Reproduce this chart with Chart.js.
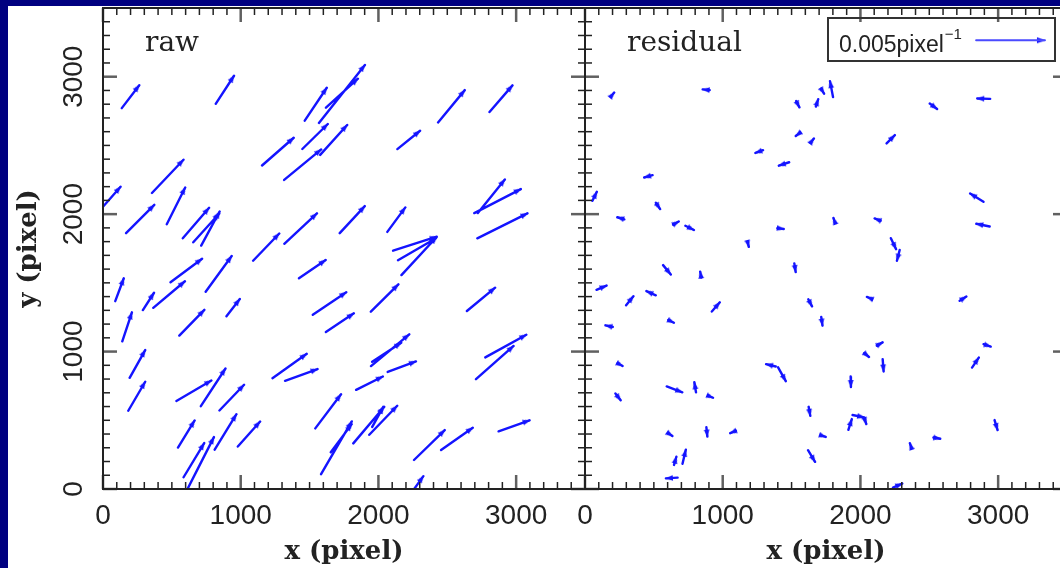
<!DOCTYPE html>
<html><head><meta charset="utf-8">
<script src="https://cdn.jsdelivr.net/npm/chart.js@4.4.1/dist/chart.umd.min.js"></script>
<style>
html,body{margin:0;padding:0;background:#000080;}
#wrap{position:relative;width:1060px;height:568px;overflow:hidden;background:#000080;}
#card{position:absolute;left:8px;top:6px;width:1060px;height:570px;background:#fff;}
canvas{position:absolute;top:0;}
#cL{left:0;width:600px;height:568px;}
#cR{left:560px;width:520px;height:568px;}
</style></head><body>
<div id="wrap"><div id="card"></div>
<canvas id="cL" width="600" height="568"></canvas>
<canvas id="cR" width="520" height="568"></canvas>
</div>
<script>
// ---- axis / tick values ----
const xTickValues = [0, 1000, 2000, 3000];
const yTickValues = [0, 1000, 2000, 3000];
const axisMin = 0, axisMax = 3500, minorStep = 100, majorStep = 1000;

// ---- raw distortion field: star position (x, y) and vector (u, v) in 1e-3 pixel^-1 ----
const rawX = [200,885,1545,1735,1735,1540,1270,1450,1675,470,45,270,530,675,750,780,1435,1185,1810,120,605,840,1520,330,480,175,645,945,1645,1720,250,245,660,800,935,1355,1440,605,890,1060,1635,1695,1730,660,700,2530,2890,2220,2130,2820,2865,2900,2265,2280,2295,2045,2745,2085,2060,2170,1935,2925,2845,1930,2035,1995,2370,2570,2985,2270];
const rawY = [2855,2905,2800,2875,2880,2565,2455,2360,2540,2275,2105,1965,2060,1935,1900,1895,1895,1760,1960,1450,1590,1565,1600,1365,1415,1180,1210,1320,1350,1210,910,675,715,740,665,895,830,400,415,400,565,300,370,210,170,2785,2840,2540,1960,2130,2095,1915,1785,1745,1695,1390,1380,1010,995,890,770,1040,920,465,500,525,320,365,460,15];
const rawU = [1.27,1.33,1.60,3.34,2.32,1.85,2.30,2.69,1.96,2.29,1.65,2.05,1.34,1.91,1.89,1.34,2.37,1.90,1.82,0.62,2.29,1.89,1.94,0.81,2.30,0.70,1.82,0.97,2.43,2.03,1.13,1.23,2.54,1.79,1.79,2.49,2.36,1.21,1.58,1.62,1.87,2.23,1.52,1.50,2.11,1.94,1.67,1.65,1.31,1.96,3.38,3.64,3.17,2.76,2.56,2.00,2.05,2.78,2.11,2.05,1.94,2.98,2.73,2.25,2.03,0.80,2.23,2.30,2.25,1.13];
const rawV = [1.67,2.04,2.40,4.22,2.11,1.82,2.02,2.22,2.18,2.42,1.89,2.06,2.67,2.22,2.09,2.48,2.21,1.98,1.97,1.67,1.71,2.60,1.33,1.26,1.93,2.11,1.87,1.25,1.64,1.36,2.02,2.11,1.49,2.74,1.87,1.77,0.85,1.97,2.58,1.82,2.48,3.84,2.04,2.49,4.15,2.35,1.94,1.33,1.78,2.44,1.75,1.82,1.02,1.60,2.77,1.99,1.70,2.31,1.38,0.77,0.97,1.65,2.42,2.66,2.11,1.46,2.18,1.62,0.80,1.57];

// ---- residual field ----
const resX = [200,880,1545,1685,1790,1725,2530,2895,2220,1545,1650,1265,1445,460,70,530,260,660,760,1420,1810,2125,1185,2845,2890,2240,2275,595,1525,840,120,325,480,950,175,625,1635,1720,2065,2745,2140,2045,2165,2920,2835,255,1350,1430,1930,650,800,240,915,1630,1985,2035,1925,2985,620,885,1075,1730,2365,2555,655,720,1645,630,2270];
const resY = [2870,2905,2800,2810,2910,2895,2785,2840,2545,2580,2535,2455,2365,2275,2130,2060,1970,1935,1900,1895,1955,1960,1780,2120,1920,1785,1700,1595,1610,1560,1465,1370,1425,1325,1185,1220,1355,1220,1390,1385,1055,975,900,1045,920,905,900,835,780,725,740,670,670,565,530,495,470,465,395,415,415,385,315,370,205,235,240,80,25];
const resU = [0.24,-0.51,0.24,0.17,-0.22,0.22,0.53,-0.94,0.60,-0.29,0.24,-0.55,-0.75,-0.61,0.32,0.31,-0.51,0.41,0.62,0.46,-0.12,-0.44,0.09,-0.97,-0.97,0.38,-0.20,0.56,0.10,-0.07,0.73,0.53,-0.68,0.58,-0.53,0.41,0.27,0.09,-0.36,0.49,0.42,0.34,0.07,0.52,0.49,0.36,-0.70,0.56,0.02,1.13,-0.12,0.38,0.29,0.12,0.84,0.15,0.25,0.22,0.29,0.07,-0.41,0.36,-0.12,0.49,0.17,0.24,0.51,-0.85,0.67];
const resV = [0.29,0.05,-0.46,0.54,1.16,-0.36,-0.39,0.03,0.60,-0.22,0.32,-0.20,-0.25,-0.17,0.66,-0.46,0.15,0.24,-0.31,-0.07,0.34,0.17,-0.36,0.61,0.20,-0.80,-0.78,-0.68,-0.63,0.44,0.31,0.66,0.31,0.67,0.12,-0.20,-0.52,-0.63,0.15,0.31,0.24,-0.29,-0.90,-0.17,0.73,-0.20,0.17,-1.00,-0.77,-0.42,0.73,-0.49,-0.12,-0.66,-0.17,-0.44,0.78,-0.73,-0.20,-0.68,-0.18,-0.12,0.36,-0.09,0.60,1.02,-0.85,-0.06,0.29];

// ---- key arrow ----
const keyValue = 0.005;           // pixel^-1
const keyX = [2840], keyY = [3265];
const unitScale = 1e-3;           // u, v are in 1e-3 pixel^-1
const plotScale = 1e5;            // plot length per pixel^-1

const ARROW_COLOR = '#1414ff';
const TEXT_COLOR = '#222';

function makeHead(len, half) {
  const s = Math.ceil(len * 2 + 4);
  const c = document.createElement('canvas');
  c.width = s; c.height = s;
  const g = c.getContext('2d');
  const cx = s / 2, cy = s / 2;
  g.fillStyle = ARROW_COLOR;
  g.beginPath();
  g.moveTo(cx, cy - 0.5);
  g.lineTo(cx + half, cy + len);
  g.lineTo(cx - half, cy + len);
  g.closePath();
  g.fill();
  return c;
}
const headImg = makeHead(7, 2.8);
const keyHeadImg = makeHead(8, 3);

function shafts(X, Y, U, V) {
  const d = [];
  for (let i = 0; i < X.length; i++) {
    const dx = U[i] * unitScale * plotScale, dy = V[i] * unitScale * plotScale;
    d.push({x: X[i] - dx / 2, y: Y[i] - dy / 2}, {x: X[i] + dx / 2, y: Y[i] + dy / 2}, {x: X[i], y: null});
  }
  return d;
}
function heads(X, Y, U, V) {
  return X.map((x, i) => {
    const dx = U[i] * unitScale * plotScale, dy = V[i] * unitScale * plotScale;
    return {x: x + dx / 2, y: Y[i] + dy / 2, dx, dy};
  });
}
function headRotation(c) {
  const r = c.raw;
  if (!r) return 0;
  const sx = c.chart.scales.x, sy = c.chart.scales.y;
  const px = sx.getPixelForValue(r.x) - sx.getPixelForValue(r.x - r.dx);
  const py = sy.getPixelForValue(r.y) - sy.getPixelForValue(r.y - r.dy);
  return Math.atan2(px, -py) * 180 / Math.PI;
}
function arrowDatasets(X, Y, U, V, img, width) {
  return [
    {type: 'line', data: shafts(X, Y, U, V), borderColor: ARROW_COLOR, borderWidth: width,
     pointRadius: 0, spanGaps: false, fill: false, tension: 0, borderCapStyle: 'round'},
    {type: 'scatter', data: heads(X, Y, U, V), pointStyle: img, pointRadius: 4,
     pointRotation: headRotation, showLine: false}
  ];
}

const framePlugin = {
  id: 'frame',
  afterDraw(chart, args, opts) {
    const {ctx, chartArea: a, scales: {x, y}} = chart;
    ctx.save();
    const seg = (x1, y1, x2, y2) => { ctx.beginPath(); ctx.moveTo(x1, y1); ctx.lineTo(x2, y2); ctx.stroke(); };
    for (let v = axisMin; v <= axisMax; v += minorStep) {
      const major = v % majorStep === 0;
      const len = major ? 14 : 7;
      ctx.lineWidth = major ? 2.5 : 1.5;
      ctx.strokeStyle = major ? '#606060' : '#222';
      const px = x.getPixelForValue(v), py = y.getPixelForValue(v);
      seg(px, a.bottom, px, a.bottom - len);
      seg(px, a.top, px, a.top + len);
      seg(a.left, py, a.left + len, py);
      seg(a.right, py, a.right - len, py);
    }
    ctx.strokeStyle = '#222';
    ctx.lineWidth = 2;
    ctx.strokeRect(a.left, a.top, a.width, a.height);
    ctx.fillStyle = TEXT_COLOR;
    ctx.font = '28px "DejaVu Serif"';
    ctx.textBaseline = 'alphabetic';
    ctx.fillText(opts.label, a.left + 42, a.top + 43);
    if (opts.key) {
      ctx.lineWidth = 2;
      ctx.strokeStyle = '#333';
      ctx.strokeRect(a.left + 243, a.top + 10, 227, 43);
      ctx.font = '23px "Liberation Sans"';
      const t = keyValue + 'pixel';
      ctx.fillText(t, a.left + 254, a.top + 44);
      const w = ctx.measureText(t).width;
      ctx.font = '15px "Liberation Sans"';
      ctx.fillText('\u22121', a.left + 254 + w + 1, a.top + 31);
    }
    ctx.restore();
  }
};

const plainLabel = v => String(v);

function makeChart(id, label, X, Y, U, V, showY, padLeft, padRight, withKey) {
  const datasets = arrowDatasets(X, Y, U, V, headImg, 2.4);
  if (withKey) {
    const kU = [keyValue / unitScale], kV = [0];
    const kd = arrowDatasets(keyX.map(v => v + keyValue * plotScale / 2), keyY, kU, kV, keyHeadImg, 2);
    kd[0].borderColor = '#4a4aff';
    datasets.push(...kd);
  }
  return new Chart(document.getElementById(id), {
    data: {datasets},
    options: {
      responsive: false, animation: false, devicePixelRatio: 1,
      layout: {padding: {left: padLeft, right: padRight, top: 8, bottom: 0}},
      plugins: {legend: {display: false}, tooltip: {enabled: false}, frame: {label, key: withKey}},
      events: [],
      scales: {
        x: {
          type: 'linear', min: axisMin, max: axisMax,
          afterBuildTicks: s => { s.ticks = xTickValues.map(v => ({value: v})); },
          afterFit: s => { s.height = 79; s.paddingLeft = 0; s.paddingRight = 0; },
          grid: {display: false, drawTicks: false}, border: {display: false},
          ticks: {color: TEXT_COLOR, font: {family: 'Liberation Sans', size: 28}, padding: 10, maxRotation: 0, autoSkip: false, callback: plainLabel},
          title: {display: true, text: 'x (pixel)', color: TEXT_COLOR, font: {family: 'DejaVu Serif', size: 26, weight: 'bold'}, padding: {top: 0, bottom: 0}}
        },
        y: {
          type: 'linear', min: axisMin, max: axisMax, display: showY,
          afterBuildTicks: s => { s.ticks = yTickValues.map(v => ({value: v})); },
          afterFit: s => { if (showY) s.width = 103; s.paddingTop = 0; s.paddingBottom = 0; },
          grid: {display: false, drawTicks: false}, border: {display: false},
          ticks: {color: TEXT_COLOR, font: {family: 'Liberation Sans', size: 28}, padding: -2, minRotation: 90, maxRotation: 90, crossAlign: 'center', autoSkip: false, callback: plainLabel},
          title: {display: true, text: 'y (pixel)', color: TEXT_COLOR, font: {family: 'DejaVu Serif', size: 26, weight: 'bold'}, padding: {top: 14, bottom: 0}}
        }
      }
    },
    plugins: [framePlugin]
  });
}

makeChart('cL', 'raw', rawX, rawY, rawU, rawV, true, 0, 15, false);
makeChart('cR', 'residual', resX, resY, resU, resV, false, 25, 13, true);
</script>
</body></html>
